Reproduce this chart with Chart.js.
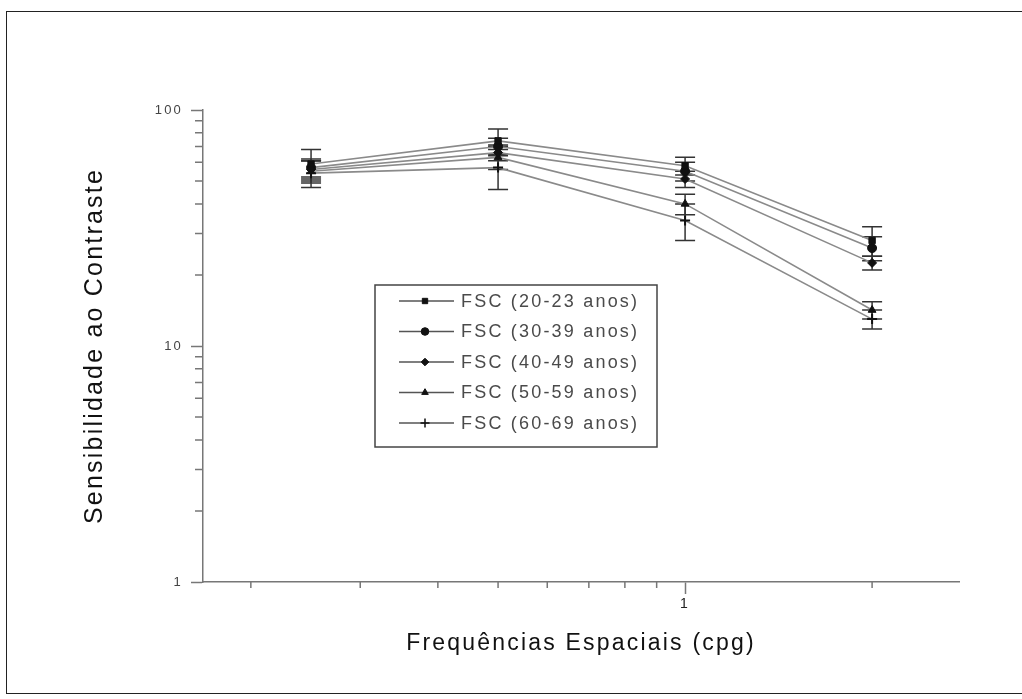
<!DOCTYPE html>
<html>
<head>
<meta charset="utf-8">
<script src="https://cdn.jsdelivr.net/npm/chart.js@4/dist/chart.umd.min.js"></script>
<style>
  body { margin: 0; background: #fff; }
  #frame { position: absolute; left: 6px; top: 11px; width: 1100px; height: 681px; border: 1.5px solid #222; }
  #c { position: absolute; left: 0; top: 0; }
</style>
</head>
<body>
<div id="frame"></div>
<canvas id="c" width="1022" height="699"></canvas>
<script>
// spatial frequencies (cpg)
var freqs = [0.25, 0.5, 1, 2];

var seriesLabels = ['FSC (20-23 anos)', 'FSC (30-39 anos)', 'FSC (40-49 anos)', 'FSC (50-59 anos)', 'FSC (60-69 anos)'];
var seriesStyles = ['rect', 'circle', 'rectRot', 'triangle', 'cross'];

// contrast sensitivity per age group
var fsc2023 = [59, 74, 58, 28];
var fsc3039 = [57, 70, 55, 26];
var fsc4049 = [56, 66, 51, 22.5];
var fsc5059 = [55, 63, 40, 14.2];
var fsc6069 = [54, 57, 34, 13];

// error bars (+/-)
var err2023 = [9, 9, 5, 4];
var err3039 = [5, 6, 5, 3];
var err4049 = [5, 5, 4, 1.5];
var err5059 = [6, 7, 4, 1.2];
var err6069 = [7, 11, 6, 1.2];

var yTicks = [1, 2, 3, 4, 5, 6, 7, 8, 9, 10, 20, 30, 40, 50, 60, 70, 80, 90, 100];
var yLabels = [1, 10, 100];
var xTicks = [0.2, 0.3, 0.4, 0.5, 0.6, 0.7, 0.8, 0.9, 1, 2];
var xLabels = [1];

var values = [fsc2023, fsc3039, fsc4049, fsc5059, fsc6069];
var errors = [err2023, err3039, err4049, err5059, err6069];

var datasets = values.map(function(vals, i) {
    return {
        label: seriesLabels[i],
        data: vals.map(function(v, j) { return { x: freqs[j], y: v }; }),
        errs: errors[i],
        borderColor: '#8a8a8a',
        borderWidth: 1.6,
        pointStyle: seriesStyles[i],
        pointRadius: seriesStyles[i] == 'cross' ? 5 : 4.5,
        pointBackgroundColor: '#111',
        pointBorderColor: '#111',
        pointBorderWidth: seriesStyles[i] == 'cross' ? 2 : 1,
        tension: 0
    };
});

var errorBars = {
    id: 'errorBars',
    beforeDatasetsDraw: function(chart) {
        var ctx = chart.ctx, ys = chart.scales.y;
        ctx.save();
        ctx.strokeStyle = '#333';
        ctx.lineWidth = 1.5;
        chart.data.datasets.forEach(function(ds, i) {
            var meta = chart.getDatasetMeta(i);
            meta.data.forEach(function(pt, j) {
                var v = ds.data[j].y, e = ds.errs[j];
                var top = ys.getPixelForValue(v + e), bot = ys.getPixelForValue(v - e);
                ctx.beginPath();
                ctx.moveTo(pt.x, top); ctx.lineTo(pt.x, bot);
                ctx.moveTo(pt.x - 10, top); ctx.lineTo(pt.x + 10, top);
                ctx.moveTo(pt.x - 10, bot); ctx.lineTo(pt.x + 10, bot);
                ctx.stroke();
            });
        });
        ctx.restore();
    }
};

var minorTicks = {
    id: 'minorTicks',
    afterDraw: function(chart) {
        var ctx = chart.ctx, xs = chart.scales.x, ys = chart.scales.y, a = chart.chartArea;
        ctx.save();
        ctx.strokeStyle = '#777';
        ctx.lineWidth = 1.5;
        ctx.beginPath();
        yTicks.forEach(function(v) {
            if (yLabels.indexOf(v) >= 0) return;
            var y = ys.getPixelForValue(v);
            ctx.moveTo(a.left - 8, y); ctx.lineTo(a.left, y);
        });
        xTicks.forEach(function(v) {
            if (xLabels.indexOf(v) >= 0) return;
            var x = xs.getPixelForValue(v);
            ctx.moveTo(x, a.bottom); ctx.lineTo(x, a.bottom + 6);
        });
        ctx.stroke();
        ctx.restore();
    }
};

var boxLegend = {
    id: 'boxLegend',
    afterDraw: function(chart) {
        var ctx = chart.ctx;
        ctx.save();
        ctx.strokeStyle = '#444';
        ctx.lineWidth = 1.5;
        ctx.strokeRect(375, 285, 282, 162);
        seriesLabels.forEach(function(lbl, i) {
            var y = 301 + i * 30.5;
            ctx.strokeStyle = '#555';
            ctx.lineWidth = 1.5;
            ctx.beginPath();
            ctx.moveTo(399, y); ctx.lineTo(454, y);
            ctx.stroke();
            ctx.fillStyle = '#111';
            ctx.strokeStyle = '#111';
            ctx.lineWidth = seriesStyles[i] == 'cross' ? 1.5 : 1;
            Chart.helpers.drawPoint(ctx, { pointStyle: seriesStyles[i], radius: seriesStyles[i] == 'cross' ? 4.5 : 3.8, rotation: 0, borderWidth: 1 }, 425, y);
            ctx.fillStyle = '#4a4a4a';
            ctx.font = '18px "Liberation Sans", Arial, sans-serif';
            ctx.textBaseline = 'middle';
            ctx.fillText(lbl, 461, y + 1);
        });
        ctx.restore();
    }
};

var spacing = {
    id: 'spacing',
    beforeDraw: function(chart) { chart.ctx.letterSpacing = '2.2px'; }
};

Chart.defaults.font.family = '"Liberation Sans", Arial, sans-serif';

var chart = new Chart(document.getElementById('c').getContext('2d'), {
    type: 'line',
    data: { datasets: datasets },
    plugins: [spacing, errorBars, minorTicks, boxLegend],
    options: {
        responsive: false,
        animation: false,
        layout: { padding: { left: 0, top: 110, right: 63, bottom: 0 } },
        plugins: { legend: { display: false }, tooltip: { enabled: false } },
        scales: {
            x: {
                type: 'logarithmic',
                min: 0.1675,
                max: 2.76,
                afterBuildTicks: function(s) { s.ticks = xTicks.map(function(v) { return { value: v }; }); },
                afterFit: function(s) { s.height = 117; },
                ticks: {
                    autoSkip: false,
                    maxRotation: 0,
                    padding: 2,
                    color: '#222',
                    font: { size: 14 },
                    callback: function(v) { return xLabels.indexOf(v) >= 0 ? String(v) : ''; }
                },
                grid: {
                    drawOnChartArea: false,
                    tickLength: 12,
                    tickWidth: 1.5,
                    tickColor: function(c) { return xLabels.indexOf(c.tick.value) >= 0 ? '#777' : 'rgba(0,0,0,0)'; }
                },
                border: { color: '#777', width: 1.5 },
                title: {
                    display: true,
                    text: 'Frequências Espaciais (cpg)',
                    color: '#111',
                    font: { size: 23 },
                    padding: { top: 0, bottom: 42 }
                }
            },
            y: {
                type: 'logarithmic',
                min: 1,
                max: 100,
                afterBuildTicks: function(s) { s.ticks = yTicks.map(function(v) { return { value: v }; }); },
                afterFit: function(s) { s.width = 203; },
                ticks: {
                    autoSkip: false,
                    padding: 8,
                    color: '#444',
                    font: { size: 13 },
                    callback: function(v) { return yLabels.indexOf(v) >= 0 ? String(v) : ''; }
                },
                grid: {
                    drawOnChartArea: false,
                    tickLength: 12,
                    tickWidth: 1.5,
                    tickColor: function(c) { return yLabels.indexOf(c.tick.value) >= 0 ? '#777' : 'rgba(0,0,0,0)'; }
                },
                border: { color: '#777', width: 1.5 },
                title: {
                    display: true,
                    text: 'Sensibilidade ao Contraste',
                    color: '#111',
                    font: { size: 25 },
                    padding: { top: 80, bottom: 0 }
                }
            }
        }
    }
});
</script>
</body>
</html>
